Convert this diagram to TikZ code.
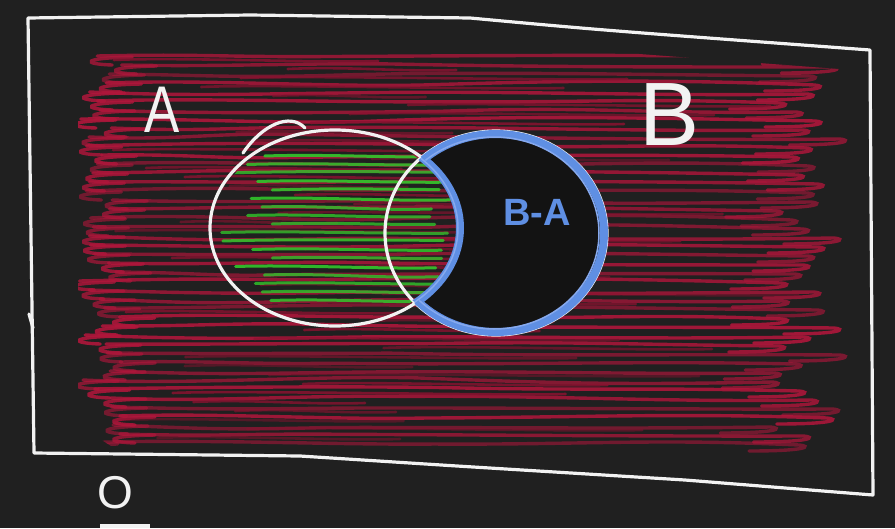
\documentclass[tikz,border=0pt]{standalone}
\usepackage{fontspec}
\setmainfont{Liberation Sans}
\definecolor{bg}{HTML}{202020}
\definecolor{ink}{HTML}{F2F2F2}
\definecolor{scribred}{HTML}{B0163B}
\definecolor{scribdark}{HTML}{8A1230}
\definecolor{scribgreen}{HTML}{31C42B}
\definecolor{setblue}{HTML}{5F8FE3}
\definecolor{setbluelight}{HTML}{86A9EE}
\definecolor{hole}{HTML}{131313}
\tikzset{
  wline/.style={draw=ink, line width=3.2pt, line cap=round, line join=round},
  redline/.style={draw=scribred, line width=3.4pt, line cap=round},
  darkline/.style={draw=scribdark, line width=2.6pt, line cap=round},
  greenline/.style={draw=scribgreen, line width=3pt, line cap=round},
  blueline/.style={draw=setblue, line width=8pt, line cap=round},
  lbl/.style={text=ink, inner sep=0pt},
}
\begin{document}
\begin{tikzpicture}[x=1pt,y=-1pt]
\fill[bg] (0,0) rectangle (895,528);
\useasboundingbox (0,0) rectangle (895,528);

% red scribbles
\begin{scope}
\clip (78,45) -- (480,42) -- (852,70) -- (858,482) -- (130,458) -- (78,425) -- cycle;
\pgfmathsetseed{7}
\foreach \i in {0,...,43}{
  \pgfmathsetmacro\yy{56+9*\i}
  \pgfmathsetmacro\xa{100+22*rand}
  \pgfmathsetmacro\xm{300+150*rnd}
  \pgfmathsetmacro\xb{805+35*rand}
  \pgfmathsetmacro\da{5*rand}
  \pgfmathsetmacro\db{5*rand}
  \pgfmathsetmacro\dc{5*rand}
  \pgfmathsetmacro\op{0.55+0.35*rnd}
  \draw[redline, opacity=\op] (\xa,\yy) .. controls (\xa+100,\yy+\da) and (\xm-100,\yy+\db) .. (\xm,\yy+\db/2)
     .. controls (\xm+150,\yy+\dc) and (\xb-150,\yy+\da) .. (\xb,\yy+2)
     .. controls (\xb+12,\yy+3) and (\xb+10,\yy+8) .. (\xb-50,\yy+8);
  \draw[redline, opacity=\op] (\xa+35,\yy+1) .. controls (\xa-16,\yy+2) and (\xa-16,\yy+8) .. (\xa+15,\yy+9);
}
\pgfmathsetseed{23}
\foreach \i in {0,...,42}{
  \pgfmathsetmacro\yy{60+9*\i}
  \pgfmathsetmacro\xa{110+300*rnd}
  \pgfmathsetmacro\xb{\xa+150+300*rnd}
  \pgfmathsetmacro\op{0.45+0.4*rnd}
  \draw[darkline, opacity=\op] (\xa,\yy) .. controls (\xa+60,\yy-3) and (\xb-60,\yy+3) .. (\xb,\yy+1);
}
\end{scope}

% green scribbles inside A
\begin{scope}
\clip (335,228) ellipse [x radius=122pt, y radius=95pt];
\pgfmathsetseed{11}
\foreach \i in {0,...,17}{
  \pgfmathsetmacro\yy{156+8.5*\i}
  \pgfmathsetmacro\xa{245+30*rand}
  \pgfmathsetmacro\xb{440+12*rand}
  \pgfmathsetmacro\dd{4*rand}
  \pgfmathsetmacro\op{0.75+0.25*rnd}
  \draw[greenline, opacity=\op] (\xa,\yy) .. controls (\xa+60,\yy-2) and (\xb-60,\yy+\dd) .. (\xb,\yy+\dd/2);
}
\end{scope}

% B minus A hole
\begin{scope}[even odd rule]
\clip (-10,-10) rectangle (905,540) (335,228) ellipse [x radius=125pt, y radius=98pt];
\fill[hole] (496,233) ellipse [x radius=111pt, y radius=102pt];
\end{scope}

% white outlines
\draw[wline] (28,18) -- (250,15) -- (470,18) .. controls (600,30) .. (870,50)
  -- (871,200) -- (873,495) -- (685,480) -- (457,466) -- (300,456) -- (34,453) -- cycle;
\draw[wline] (29,314) -- (33,328);
\draw[wline] (335,228) ellipse [x radius=125pt, y radius=98pt];
\draw[wline] (496,233) ellipse [x radius=111pt, y radius=102pt];
\draw[wline] (243,153) .. controls (262,125) and (290,112) .. (305,128);

% blue outline of B - A
\begin{scope}
\clip (496,233) ellipse [x radius=111pt, y radius=102pt];
\draw[blueline] (335,228) ellipse [x radius=125pt, y radius=98pt];
\draw[draw=setbluelight, line width=1.5pt] (333,228) ellipse [x radius=125pt, y radius=98pt];
\end{scope}
\begin{scope}[even odd rule]
\clip (-10,-10) rectangle (905,540) (335,228) ellipse [x radius=125pt, y radius=98pt];
\draw[blueline] (496,233) ellipse [x radius=108pt, y radius=99pt];
\draw[draw=setbluelight, line width=1.5pt] (494,233) ellipse [x radius=105pt, y radius=96pt];
\end{scope}

% labels
\node[lbl, font=\fontsize{66}{66}\selectfont, xscale=0.8] (la) at (162,110) {A};
\node[lbl, font=\fontsize{90}{90}\selectfont] (lb) at (670,115) {B};
\node[lbl, text=setblue, font=\bfseries\fontsize{38}{38}\selectfont] (lba) at (537,212) {B-A};
\node[lbl, font=\fontsize{46}{46}\selectfont] (lo) at (115,493) {O};
\fill[ink] (100,524) rectangle (150,528);
\end{tikzpicture}
\end{document}
